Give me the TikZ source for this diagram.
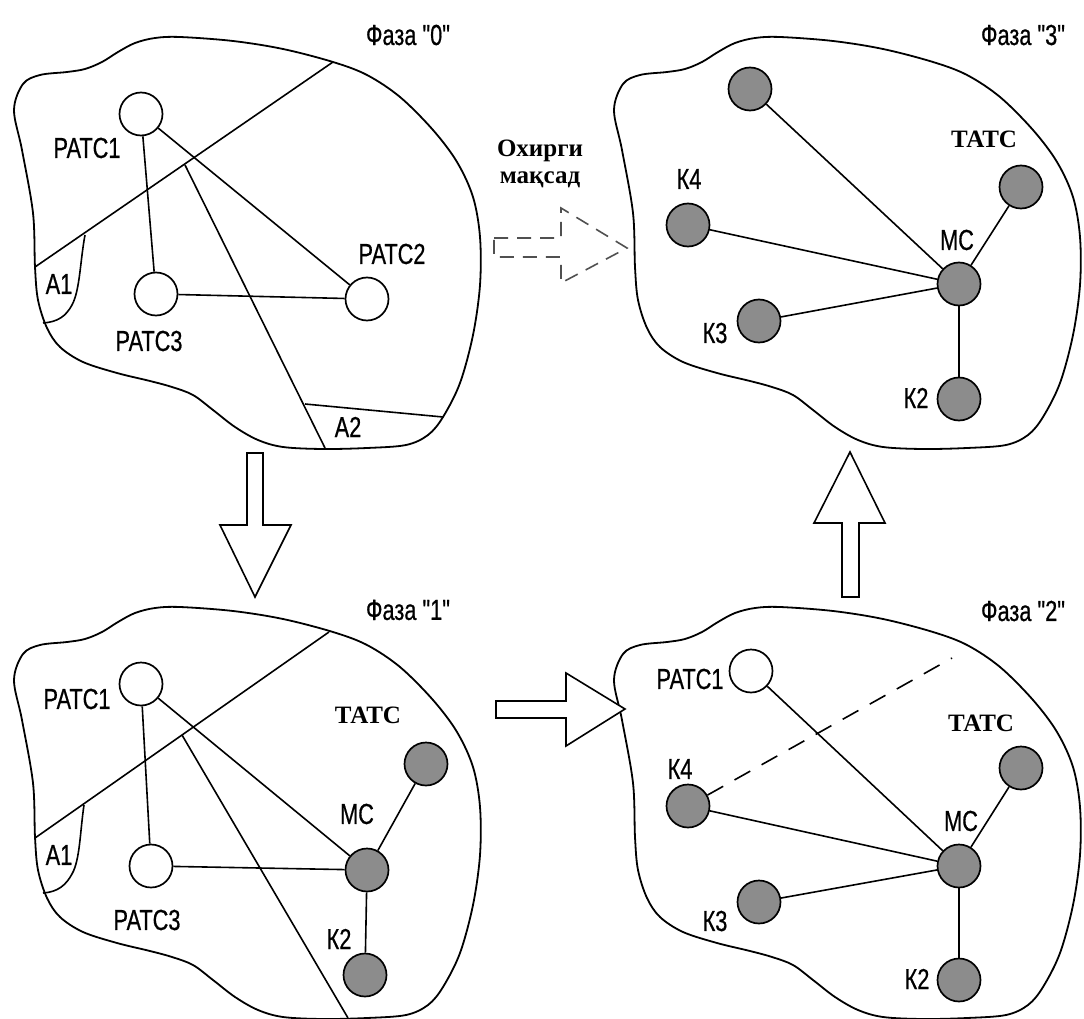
\documentclass[tikz,border=0pt]{standalone}
\usepackage{fontspec}
\setmainfont{Liberation Sans}
\newfontfamily\narrowsans[FakeStretch=0.75,FakeBold=0.6]{Liberation Sans}
\newfontfamily\timesf{Liberation Serif}
\definecolor{nodegray}{RGB}{140,140,140}
\definecolor{dashgray}{RGB}{80,80,80}
\tikzset{
  lbl/.style={font=\narrowsans\fontsize{29}{30}\selectfont, inner sep=0pt},
  tlbl/.style={font=\timesf\bfseries\fontsize{25}{27}\selectfont, inner sep=0pt, align=center},
  outline/.style={line width=1.8pt, line join=round},
  edge/.style={line width=1.6pt},
  wst/.style={circle, draw, line width=1.7pt, minimum size=43pt, inner sep=0pt, fill=white},
  gst/.style={wst, fill=nodegray},
  blockarrow/.style={draw, line width=1.6pt, fill=white, line join=miter},
}
\begin{document}
\begin{tikzpicture}[x=1pt, y=-1pt]
\useasboundingbox (0,0) rectangle (1084,1019);

% ---------- blobs ----------
\foreach \dx/\dy in {0/0, 0/570, 600/0, 600/570}
  \draw[outline, shift={(\dx,\dy)}] plot[smooth cycle, tension=0.55] coordinates {
    (33,213) (22,150) (14,110) (23,84) (40,75) (67,72) (85,69) (102,62) (118,52)
    (135,43) (155,38) (180,37) (233,41) (283,49) (333,62) (367,75) (400,97)
    (433,130) (457,162) (473,197) (480,237) (480,285) (473,335) (460,383)
    (443,417) (428,435) (406,445) (367,448) (323,449) (283,447) (258,440)
    (235,427) (213,410) (193,395) (172,387) (150,381) (117,373) (83,362)
    (60,347) (47,328) (38,300) (35,267)};

% ---------- Phase 0 ----------
\coordinate (d0a) at (333,62);
\coordinate (d0b) at (35,267);
\coordinate (e0a) at (185,165);
\coordinate (e0b) at (325,448);
\coordinate (f0a) at (305,404);
\coordinate (f0b) at (443,417);
\draw[edge] (d0a) -- (d0b);
\draw[edge] (e0a) -- (e0b);
\draw[edge] (f0a) -- (f0b);
\draw[edge] (85,235) .. controls (80,262) and (80,290) .. (72,305)
  .. controls (66,316) and (58,322) .. (43,323);
\node[wst] (r01) at (141,114) {};
\node[wst] (r03) at (156,294) {};
\node[wst] (r02) at (367,299) {};
\draw[edge] (r01) -- (r03);
\draw[edge] (r01) -- (r02);
\draw[edge] (r03) -- (r02);
\node[lbl] (l01) at (87,148) {РАТС1};
\node[lbl] (l03) at (149,341) {РАТС3};
\node[lbl] (l02) at (392,254) {РАТС2};
\node[lbl] (la01) at (59,284) {А1};
\node[lbl] (la02) at (348,427) {А2};
\node[lbl] (ph0) at (408,35) {Фаза "0"};

% ---------- Phase 1 ----------
\coordinate (d1a) at (329,632);
\coordinate (d1b) at (35,838);
\coordinate (e1a) at (182,735);
\coordinate (e1b) at (348,1018);
\draw[edge] (d1a) -- (d1b);
\draw[edge] (e1a) -- (e1b);
\draw[edge] (84,805) .. controls (80,832) and (80,860) .. (72,874)
  .. controls (66,885) and (58,892) .. (43,893);
\node[wst] (r11) at (141,684) {};
\node[wst] (r13) at (151,866) {};
\node[gst] (m1) at (367,870) {};
\node[gst] (t1) at (426,764) {};
\node[gst] (k12) at (365,975) {};
\draw[edge] (r11) -- (r13);
\draw[edge] (r11) -- (m1);
\draw[edge] (r13) -- (m1);
\draw[edge] (m1) -- (t1);
\draw[edge] (m1) -- (k12);
\node[lbl] (l11) at (77,699) {РАТС1};
\node[lbl] (l13) at (147,920) {РАТС3};
\node[lbl] (lm1) at (357,814) {МС};
\node[tlbl] (lt1) at (368,715) {ТАТС};
\node[lbl] (lk12) at (339,939) {К2};
\node[lbl] (la11) at (59,855) {А1};
\node[lbl] (ph1) at (408,610) {Фаза "1"};

% ---------- Phase 3 ----------
\node[gst] (u3) at (750,89) {};
\node[gst] (k34) at (688,225) {};
\node[gst] (t3) at (1021,187) {};
\node[gst] (m3) at (959,284) {};
\node[gst] (k33) at (759,321) {};
\node[gst] (k32) at (959,399) {};
\draw[edge] (u3) -- (m3);
\draw[edge] (k34) -- (m3);
\draw[edge] (k33) -- (m3);
\draw[edge] (t3) -- (m3);
\draw[edge] (k32) -- (m3);
\node[lbl] (lk34) at (689,179) {К4};
\node[tlbl] (lt3) at (984,139) {ТАТС};
\node[lbl] (lm3) at (957,240) {МС};
\node[lbl] (lk33) at (715,333) {К3};
\node[lbl] (lk32) at (916,398) {К2};
\node[lbl] (ph3) at (1023,35) {Фаза "3"};

% ---------- Phase 2 ----------
\node[wst] (r21) at (751,671) {};
\node[gst] (k24) at (688,806) {};
\node[gst] (t2) at (1021,768) {};
\node[gst] (m2) at (959,866) {};
\node[gst] (k23) at (759,902) {};
\node[gst] (k22) at (959,980) {};
\coordinate (dash2) at (952,658);
\draw[edge, dash pattern=on 18pt off 13pt] (k24) -- (dash2);
\draw[edge] (r21) -- (m2);
\draw[edge] (k24) -- (m2);
\draw[edge] (k23) -- (m2);
\draw[edge] (t2) -- (m2);
\draw[edge] (k22) -- (m2);
\node[lbl] (l21) at (690,679) {РАТС1};
\node[lbl] (lk24) at (680,769) {К4};
\node[tlbl] (lt2) at (981,723) {ТАТС};
\node[lbl] (lm2) at (961,821) {МС};
\node[lbl] (lk23) at (715,921) {К3};
\node[lbl] (lk22) at (917,979) {К2};
\node[lbl] (ph2) at (1023,611) {Фаза "2"};

% ---------- arrows between phases ----------
\draw[blockarrow] (247,453) -- (263,453) -- (263,525) -- (291,525) -- (255,597)
  -- (220,525) -- (247,525) -- cycle;
\draw[blockarrow] (842,597) -- (859,597) -- (859,523) -- (885,523) -- (850,452)
  -- (814,523) -- (842,523) -- cycle;
\draw[blockarrow] (496,701) -- (566,701) -- (566,673) -- (625,709) -- (566,746)
  -- (566,718) -- (496,718) -- cycle;
\draw[line width=1.6pt, dashgray, dash pattern=on 14pt off 9pt]
  (494,238) -- (561,238) -- (561,208) -- (627,248) -- (561,283) -- (561,257)
  -- (494,257) -- cycle;
\node[tlbl] (goal) at (540,164) {Охирги\\мақсад};
\end{tikzpicture}
\end{document}
